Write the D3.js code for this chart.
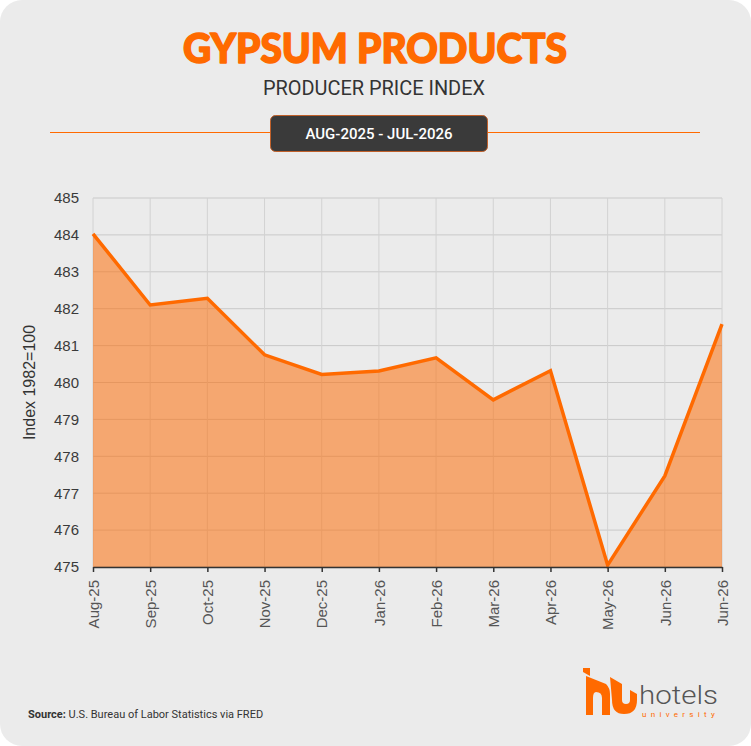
<!DOCTYPE html>
<html>
<head>
<meta charset="utf-8">
<script src="https://cdn.jsdelivr.net/npm/d3@7"></script>
<style>
  body { margin: 0; background: #fff; }
  svg { display: block; }
</style>
</head>
<body>
<svg id="chart"></svg>
<script>
// data
var months = ["Aug-25", "Sep-25", "Oct-25", "Nov-25", "Dec-25", "Jan-26",
              "Feb-26", "Mar-26", "Apr-26", "May-26", "Jun-26", "Jun-26 "];
var values = [484.03, 482.1, 482.28, 480.75, 480.22, 480.31,
              480.67, 479.53, 480.32, 475.05, 477.47, 481.58];
var yTicks = [475, 476, 477, 478, 479, 480, 481, 482, 483, 484, 485];

var width = 751, height = 746;
var orange = "#ff6a00";

var svg = d3.select("#chart")
    .attr("width", width)
    .attr("height", height);

// card
svg.append("rect")
    .attr("width", width).attr("height", height)
    .attr("rx", 22)
    .attr("fill", "#ebebeb");

// header
svg.append("text")
    .attr("x", 375).attr("y", 63)
    .attr("text-anchor", "middle")
    .attr("font-family", "Lato, 'DejaVu Sans', sans-serif")
    .attr("font-weight", 900)
    .attr("font-size", 41)
    .attr("textLength", 384)
    .attr("lengthAdjust", "spacingAndGlyphs")
    .attr("fill", orange)
    .attr("stroke", orange)
    .attr("stroke-width", 1.6)
    .attr("stroke-linejoin", "round")
    .text("GYPSUM PRODUCTS");

svg.append("text")
    .attr("x", 374).attr("y", 95)
    .attr("text-anchor", "middle")
    .attr("font-family", "Roboto, sans-serif")
    .attr("font-size", 20)
    .attr("textLength", 222)
    .attr("lengthAdjust", "spacingAndGlyphs")
    .attr("fill", "#333")
    .text("PRODUCER PRICE INDEX");

svg.append("line")
    .attr("x1", 50).attr("x2", 700)
    .attr("y1", 132.5).attr("y2", 132.5)
    .attr("stroke", orange).attr("stroke-width", 1.2);

svg.append("rect")
    .attr("x", 270.5).attr("y", 115.5)
    .attr("width", 217).attr("height", 36)
    .attr("rx", 5)
    .attr("fill", "#3a3a3a")
    .attr("stroke", "#c0602a").attr("stroke-width", 1);

svg.append("text")
    .attr("x", 379).attr("y", 139)
    .attr("text-anchor", "middle")
    .attr("font-family", "Roboto, sans-serif")
    .attr("font-weight", 500)
    .attr("font-size", 15)
    .attr("fill", "#fff")
    .text("AUG-2025 - JUL-2026");

// chart
var margin = {left: 93, right: 29, top: 198, bottom: 179};
var x = d3.scalePoint()
    .domain(months)
    .range([margin.left, width - margin.right]);
var y = d3.scaleLinear()
    .domain([475, 485])
    .range([height - margin.bottom, margin.top]);

var g = svg.append("g");

// grid
g.append("g")
  .selectAll("line")
  .data(yTicks)
  .join("line")
    .attr("x1", margin.left).attr("x2", width - margin.right)
    .attr("y1", d => y(d)).attr("y2", d => y(d))
    .attr("stroke", "#c9c9c9").attr("stroke-width", 1);

g.append("g")
  .selectAll("line")
  .data(months)
  .join("line")
    .attr("x1", d => x(d)).attr("x2", d => x(d))
    .attr("y1", margin.top).attr("y2", y(475))
    .attr("stroke", "#d2d2d2").attr("stroke-width", 1);

var pts = months.map((m, i) => ({m: m, v: values[i]}));

var area = d3.area()
    .x(d => x(d.m))
    .y0(y(475))
    .y1(d => y(d.v));

var line = d3.line()
    .x(d => x(d.m))
    .y(d => y(d.v));

g.append("path")
    .datum(pts)
    .attr("d", area)
    .attr("fill", orange)
    .attr("fill-opacity", 0.52);

g.append("path")
    .datum(pts)
    .attr("d", line)
    .attr("fill", "none")
    .attr("stroke", orange)
    .attr("stroke-width", 3.5)
    .attr("stroke-linejoin", "miter");

// x axis
var xAxis = g.append("g")
    .attr("transform", "translate(0," + y(475) + ")")
    .call(d3.axisBottom(x).tickSize(5).tickSizeOuter(0));
xAxis.select(".domain").attr("stroke", "#333").attr("stroke-width", 1.5);
xAxis.selectAll(".tick line").attr("stroke", "#333").attr("stroke-width", 1.5);
xAxis.selectAll("text")
    .attr("font-family", "'Liberation Sans', Arial, sans-serif")
    .attr("font-size", 15)
    .attr("fill", "#555")
    .attr("transform", "rotate(-90)")
    .attr("text-anchor", "end")
    .attr("x", -13)
    .attr("y", 0)
    .attr("dy", "0.35em");

// y axis labels
var yAxis = g.append("g")
    .attr("transform", "translate(" + margin.left + ",0)")
    .call(d3.axisLeft(y).tickValues(yTicks).tickSize(0).tickPadding(14));
yAxis.select(".domain").remove();
yAxis.selectAll("text")
    .attr("font-family", "'Liberation Sans', Arial, sans-serif")
    .attr("font-size", 15)
    .attr("fill", "#3a3a3a");

svg.append("text")
    .attr("transform", "translate(35," + ((y(475) + y(485)) / 2) + ") rotate(-90)")
    .attr("text-anchor", "middle")
    .attr("font-family", "'Liberation Sans', Arial, sans-serif")
    .attr("font-size", 16)
    .attr("fill", "#333")
    .text("Index 1982=100");

// source
var src = svg.append("text")
    .attr("x", 28).attr("y", 718)
    .attr("font-family", "Roboto, sans-serif")
    .attr("font-size", 11)
    .attr("fill", "#333");
src.append("tspan").attr("font-weight", 700).text("Source:");
src.append("tspan").text(" U.S. Bureau of Labor Statistics via FRED");

// logo
var logo = svg.append("g").attr("fill", orange);
logo.append("path").attr("d", "M583,668 L590,668 L590,676 L583,672 Z");
logo.append("path")
    .attr("d", "M586,676 L596,680 L606,684 Q610,688 610,694 L610,715 L602,715 L602,698 Q602,692 596,692 Q593,692 593,698 L593,715 L586,715 Z");
logo.append("path")
    .attr("d", "M610,677 L622,684 L622,700 Q622,704 626,704 Q630,704 630,700 L630,690 L637,694 L637,700 Q637,714 624,714 Q612,714 612,700 Z");
svg.append("text")
    .attr("x", 639).attr("y", 704)
    .attr("font-family", "Roboto, sans-serif")
    .attr("font-weight", 300)
    .attr("font-size", 25)
    .attr("fill", "#555")
    .attr("textLength", 79)
    .attr("lengthAdjust", "spacingAndGlyphs")
    .text("hotels");
svg.append("text")
    .attr("x", 642).attr("y", 717)
    .attr("font-family", "Roboto, sans-serif")
    .attr("font-size", 8)
    .attr("fill", orange)
    .attr("letter-spacing", 4.3)
    .text("university");
</script>
</body>
</html>
